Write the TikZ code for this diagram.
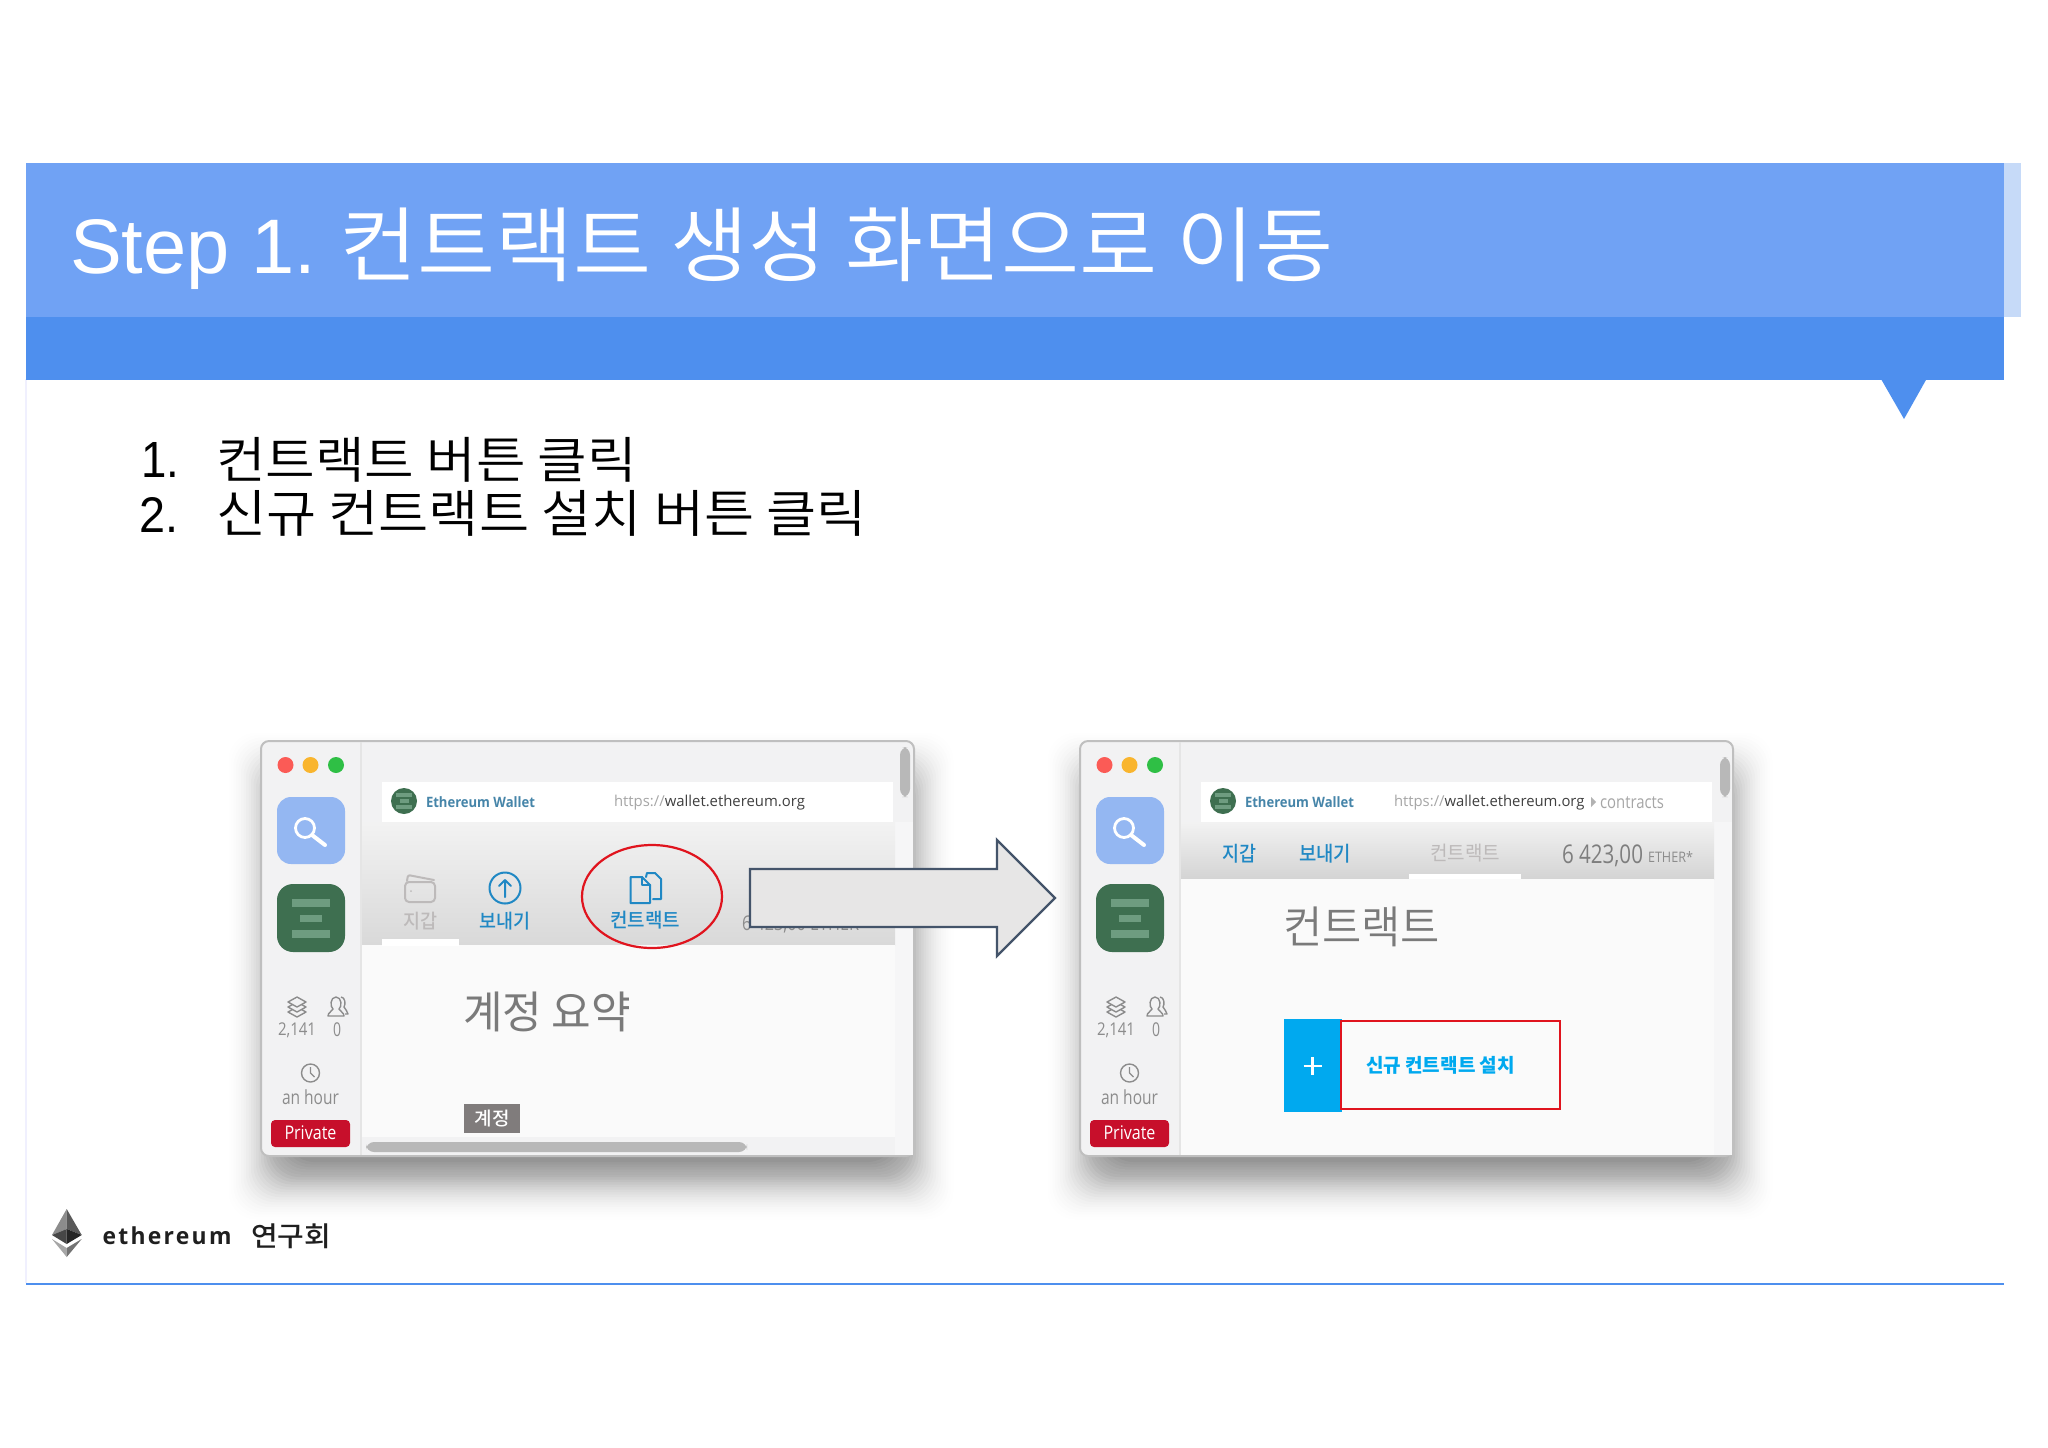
\documentclass[tikz,border=0pt]{standalone}
\usepackage{graphicx}
\usepackage{fontspec}
\setmainfont{Liberation Sans}
\newfontfamily\kr{Noto Sans CJK KR}
\newfontfamily\krl{Noto Sans CJK KR Light}
\newfontfamily\krd{Noto Sans CJK KR DemiLight}
\newfontfamily\krm{Noto Sans CJK KR Medium}
\newfontfamily\os{Open Sans}
\newfontfamily\ethf[LetterSpace=10]{Open Sans}
\newlength{\pxu}\setlength{\pxu}{0.5pt}
\newcommand{\fit}[3]{\resizebox*{#1\pxu}{#2\pxu}{#3}}
\definecolor{bandlight}{HTML}{70A2F4}
\definecolor{banddark}{HTML}{4E8FEE}
\definecolor{bandpale}{HTML}{C6DAF8}
\definecolor{sidegray}{HTML}{F2F2F3}
\definecolor{rightgray}{HTML}{F6F6F7}
\definecolor{txgray}{HTML}{8C8C8C}
\definecolor{navblue}{HTML}{2088C4}
\definecolor{navgray}{HTML}{BDBABA}
\definecolor{icongreen}{HTML}{3E6F50}
\definecolor{barGreen}{HTML}{6E9C80}
\definecolor{searchblue}{HTML}{94B7F2}
\definecolor{privred}{HTML}{C70F2B}
\definecolor{arrowline}{HTML}{44546A}
\definecolor{arrowfill}{HTML}{E7E6E6}
\definecolor{plusblue}{HTML}{00A9EF}
\definecolor{markred}{HTML}{E0141E}
\definecolor{lightR}{HTML}{FB5B56}
\definecolor{lightY}{HTML}{F9B52E}
\definecolor{lightG}{HTML}{2FBF45}
\tikzset{
  lbl/.style={inner sep=0pt,outer sep=0pt},
  lblw/.style={lbl,anchor=west},
  iconline/.style={line width=1pt,line join=round,line cap=round},
}
\newcommand{\basewindow}{%
  \foreach \i in {0,...,24}{
    \pgfmathsetmacro{\op}{0.026*min(1,(25-\i)/16)}
    \fill[black,opacity=\op,rounded corners=14pt]
      ({286-\i*2.5},{790-\i*2.5}) rectangle ({896+\i*2.5},{1162+\i*2.5});
  }
  \fill[sidegray,rounded corners=4pt] (261,741) rectangle (914,1156);
  \draw[black!25,line width=1pt,rounded corners=4pt] (261,741) rectangle (914,1156);
  \draw[black!10,line width=.6pt] (361,742) -- (361,1155);
  \fill[rightgray] (895,822) rectangle (913,1155);
  % traffic lights
  \fill[lightR] (285.5,765) circle[radius=8];
  \fill[lightY] (310.5,765) circle[radius=8];
  \fill[lightG] (336,765) circle[radius=8];
  % search
  \fill[searchblue,rounded corners=7pt] (277,797) rectangle (345,864);
  \draw[white,line width=1.4pt] (305,828) circle[radius=9.5];
  \draw[white,line width=2pt,line cap=round] (312,835) -- (325,845);
  % green app
  \fill[icongreen,rounded corners=8pt] (277,884) rectangle (345,952);
  \fill[barGreen] (292,899) rectangle (330,907);
  \fill[barGreen] (300,915) rectangle (322,922);
  \fill[barGreen] (292,930) rectangle (330,938);
  % layers icon
  \foreach \d in {10,5,0}{
    \filldraw[fill=sidegray,draw=txgray,line width=.7pt,line join=round]
      (297,{997+\d}) -- (306,{1002+\d}) -- (297,{1007+\d}) -- (288,{1002+\d}) -- cycle;
  }
  % person icon
  \draw[txgray,line width=.7pt,line join=round]
    (341,997) .. controls (345,997) and (346,1004) .. (344,1007)
    .. controls (345,1010) and (348,1011) .. (348,1014) -- (345,1014);
  \filldraw[fill=sidegray,draw=txgray,line width=.7pt,line join=round]
    (336,997) .. controls (330,997) and (330,1007) .. (333,1009)
    .. controls (332,1012) and (328,1012) .. (328,1016) -- (344,1016)
    .. controls (344,1012) and (340,1012) .. (339,1009)
    .. controls (342,1007) and (342,997) .. (336,997) -- cycle;
  \node[lbl,text=txgray] (n1) at (297,1030) {\fit{38}{15}{\os 2,141}};
  \node[lbl,text=txgray] (n2) at (337,1030) {\fit{8}{14}{\os 0}};
  % clock
  \draw[txgray,line width=.7pt] (310.5,1073) circle[radius=9];
  \draw[txgray,line width=.6pt,line join=round] (310.5,1067) -- (310.5,1073) -- (314.5,1077);
  \node[lbl,text=txgray] (n3) at (310.5,1097) {\fit{57}{15}{\os an hour}};
  % private
  \node[lbl,fill=privred,rounded corners=2pt,minimum width=39.5pt,minimum height=13.5pt] (n4) at (310.5,1133.5) {};
  \node[lbl,text=white] (n5) at (310.5,1133) {\fit{52}{14}{\os Private}};
  % address bar
  \fill[white] (381.5,782) rectangle (893,822);
  \fill[icongreen] (404,801) circle[radius=13];
  \fill[barGreen] (396,793) rectangle (412,796.5);
  \fill[barGreen] (399.5,799) rectangle (408.5,802.5);
  \fill[barGreen] (396,805) rectangle (412,808.5);
  \node[lblw,text=navblue!60!gray] (n6) at (426,802) {\fit{109}{11}{\os\bfseries Ethereum Wallet}};
}
\begin{document}
\begin{tikzpicture}[x=0.5pt,y=-0.5pt]
\useasboundingbox (0,0) rectangle (2048,1447);
\fill[white] (0,0) rectangle (2048,1447);
% page frame
\draw[black!8!blue!6!white,line width=.6pt] (26,379) -- (26,1283);
% header
\fill[bandpale] (2004,163) rectangle (2021,317);
\fill[bandlight] (26,163) rectangle (2004,317);
\fill[banddark] (26,317) rectangle (2004,380);
\fill[banddark] (1881,379) -- (1926.5,379) -- (1904,419) -- cycle;
\node[lblw,text=white] (title1) at (70,255) {\fit{246}{70}{Step 1.}};
\node[lblw,text=white] (title2) at (339,245) {\fit{994}{74}{\krd 컨트랙트 생성 화면으로 이동}};
% list
\node[lblw] (num1) at (141,460) {\fit{38}{35}{1.}};
\node[lblw] (item1) at (216,459.5) {\fit{421}{45}{\krd 컨트랙트 버튼 클릭}};
\node[lblw] (num2) at (139.5,514.5) {\fit{39}{35}{2.}};
\node[lblw] (item2) at (216,513) {\fit{651}{46}{\krd 신규 컨트랙트 설치 버튼 클릭}};
% --- left window
\begin{scope}
\basewindow
\shade[top color=black!5,bottom color=black!15,middle color=black!10] (362,822) rectangle (895,945);
\fill[black!2] (362,945) rectangle (895,1137);
\fill[white] (382,939) rectangle (459,946);
\node[lblw,text=gray] (url1) at (614,803) {\fit{191}{15}{\os {\color{black!35}https://}{\color{black!75}wallet.ethereum.org}}};
% scrollbars
\fill[black!28,rounded corners=4pt] (900,747) rectangle (910,797);
\fill[black!28,rounded corners=4pt] (366,1142) rectangle (747,1152);
% wallet icon
\draw[navgray,iconline,rounded corners=2pt] (405,882) rectangle (435,902);
\draw[navgray,iconline,rounded corners=1pt] (407,881) -- (408,875) -- (434,880);
\fill[navgray] (411,891) circle[radius=1];
\node[lbl,text=navgray] (a1) at (420,921) {\fit{34}{18}{\krm 지갑}};
% send icon
\draw[navblue,line width=1pt] (505,888) circle[radius=15.5];
\draw[navblue,iconline] (505,897) -- (505,880) (499,886) -- (505,880) -- (511,886);
\node[lbl,text=navblue] (a2) at (505,921) {\fit{51}{18}{\krm 보내기}};
% documents icon
\draw[navblue,iconline] (646,877) -- (647,873) -- (655,873) -- (661,879) -- (661,899) -- (653,899);
\draw[navblue,iconline] (630.5,877) -- (642,877) -- (650,885) -- (650,903) -- (630.5,903) -- cycle;
\draw[navblue,iconline] (642,877) -- (642,885) -- (650,885);
\node[lbl,text=navblue] (a3) at (645,920) {\fit{70}{18}{\krm 컨트랙트}};
% covered balance
\node[lblw,text=txgray] (a4) at (742,924) {\fit{126}{18}{\os 6 423,00 ETHER*}};
% heading
\node[lblw,text=black!52] (h1) at (463,1012) {\fit{168}{40}{\kr 계정 요약}};
\node[lbl,fill=black!50!red!3!gray,minimum width=28pt,minimum height=14.5pt] (tag) at (492,1118.5) {};
\node[lbl,text=white] (tagt) at (492,1118) {\fit{35}{17}{\krm 계정}};
\end{scope}
% --- right window
\begin{scope}[shift={(819,0)}]
\basewindow
\shade[top color=black!5,bottom color=black!17] (362,822) rectangle (895,879);
\fill[black!2] (362,879) rectangle (895,1155);
\fill[white] (590,874) rectangle (702,879);
\node[lbl,text=navblue] (b1) at (420.5,854) {\fit{34}{19}{\krm 지갑}};
\node[lbl,text=navblue] (b2) at (506,854) {\fit{52}{19}{\krm 보내기}};
\node[lbl,text=navgray] (b3) at (646,853) {\fit{70}{18}{\kr 컨트랙트}};
\node[lblw,text=txgray!90!black] (b4) at (743,855.5) {\fit{81}{22}{\os 6 423,00}};
\node[lblw,text=txgray] (b5) at (829,857) {\fit{45}{11}{\os ETHER*}};
\node[lblw,text=black!75] (url2) at (575,803)
  {\fit{190.5}{15}{\os {\color{black!35}https://}wallet.ethereum.org}};
\coordinate (ct) at (772,802);
\fill[black!30] (ct) ++(0,-5) -- ++(5,5) -- ++(-5,5) -- cycle;
\node[lblw,text=black!35] (url3) at (781,803) {\fit{64}{12}{\os contracts}};
\fill[black!28,rounded corners=4pt] (901,757) rectangle (911,797);
\node[lblw,text=black!52] (h2) at (464,927) {\fit{157}{40}{\krd 컨트랙트}};
% new contract button
\fill[plusblue] (464.5,1019) rectangle (522.5,1112);
\node[lbl] (plus) at (493.5,1066) {};
\draw[white,line width=1.2pt] (plus) ++(-9,0) -- ++(18,0) (plus) ++(0,-9) -- ++(0,18);
\draw[markred,line width=1.4pt] (522,1021) rectangle (741,1109);
\node[lblw,text=plusblue] (btn) at (547,1065) {\fit{149}{18}{\kr\bfseries 신규 컨트랙트 설치}};
\end{scope}
% red ellipse
\draw[markred,line width=1.1pt] (652,896.5) ellipse [x radius=70, y radius=51.5];
% block arrow
\filldraw[fill=arrowfill,draw=arrowline,line width=1.2pt,line join=miter]
  (750,869) -- (997,869) -- (997,840) -- (1055,898) -- (997,956) -- (997,927) -- (750,927) -- cycle;
% footer logo
\fill[black!45] (66.7,1209) -- (52,1235) -- (66.7,1229) -- cycle;
\fill[black!65] (66.7,1209) -- (81.7,1235) -- (66.7,1229) -- cycle;
\fill[black!72] (52,1235) -- (66.7,1229) -- (66.7,1244) -- cycle;
\fill[black!85] (81.7,1235) -- (66.7,1229) -- (66.7,1244) -- cycle;
\fill[black!35] (52,1239) -- (66.7,1248) -- (66.7,1257) -- cycle;
\fill[black!55] (81.7,1239) -- (66.7,1248) -- (66.7,1257) -- cycle;
\node[lblw,text=black!88] (eth) at (102.5,1236) {\fit{129}{18}{\ethf\bfseries ethereum}};
\node[lblw,text=black!88] (grp) at (251,1236) {\fit{80}{25}{\krm 연구회}};
\draw[banddark,line width=1.2pt] (26,1284) -- (2004,1284);
\end{tikzpicture}
\end{document}
